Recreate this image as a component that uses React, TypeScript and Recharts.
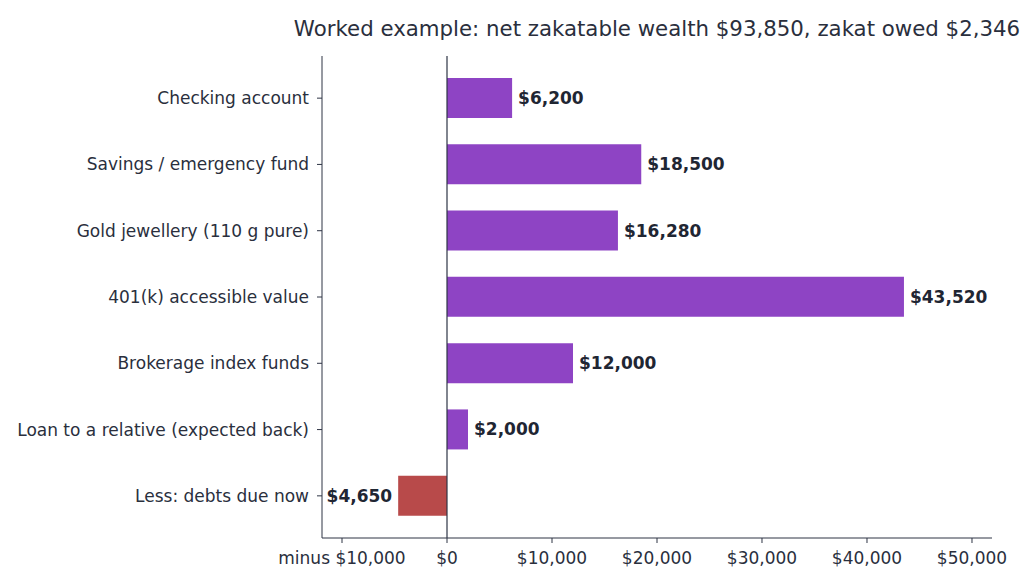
import React from "react";
import { BarChart, Bar, XAxis, YAxis, Cell, LabelList, ReferenceLine } from "recharts";

const categories = [
  "Checking account",
  "Savings / emergency fund",
  "Gold jewellery (110 g pure)",
  "401(k) accessible value",
  "Brokerage index funds",
  "Loan to a relative (expected back)",
  "Less: debts due now",
];
const values = [6200, 18500, 16280, 43520, 12000, 2000, -4650];
const xTicks = [-10000, 0, 10000, 20000, 30000, 40000, 50000];
const title = "Worked example: net zakatable wealth $93,850, zakat owed $2,346";

const data = categories.map((name, i) => ({ name, value: values[i] }));

const PURPLE = "#8E44C4";
const RED = "#B84A4A";
const AXIS = "#2E3445";
const TEXT = "#2A2F3D";
const FONT = "DejaVu Sans";

const fmt = (v: number) => "$" + Math.abs(v).toLocaleString("en-US");
const tickFmt = (v: number) => (v < 0 ? "minus " + fmt(v) : fmt(v));

const ValueLabel = (props: any) => {
  const { x, y, width, height, value } = props;
  const neg = value < 0;
  const left = Math.min(x, x + width);
  const right = Math.max(x, x + width);
  return (
    <text
      x={neg ? left - 6 : right + 6}
      y={y + height / 2}
      textAnchor={neg ? "end" : "start"}
      dominantBaseline="central"
      fontFamily={FONT}
      fontSize={17}
      fontWeight="bold"
      fill="#1F2633"
    >
      {fmt(value)}
    </text>
  );
};

export default function App() {
  return (
    <div style={{ position: "absolute", left: 0, top: 0, background: "#fff" }}>
      <div style={{ position: "relative", width: 1024, height: 588 }}>
        <div
          style={{
            position: "absolute",
            top: 17,
            left: 322,
            width: 670,
            textAlign: "center",
            fontFamily: FONT,
            fontSize: 21.3,
            lineHeight: "24px",
            color: TEXT,
            whiteSpace: "nowrap",
            display: "flex",
            justifyContent: "center",
          }}
        >
          {title}
        </div>
        <BarChart
          width={1024}
          height={588}
          data={data}
          layout="vertical"
          margin={{ top: 56, right: 32, bottom: 0, left: 0 }}
        >
          <XAxis
            type="number"
            domain={[-11905, 51905]}
            ticks={xTicks}
            tickFormatter={tickFmt}
            allowDataOverflow
            height={50}
            stroke={AXIS}
            tick={{ fill: TEXT, fontFamily: FONT, fontSize: 17 }}
            tickSize={5}
            tickMargin={9}
          />
          <YAxis
            type="category"
            dataKey="name"
            width={322}
            stroke={AXIS}
            padding={{ top: 9, bottom: 9 }}
            tick={{ fill: TEXT, fontFamily: FONT, fontSize: 17 }}
            tickSize={5}
            tickMargin={8}
            interval={0}
          />
          <ReferenceLine x={0} stroke={AXIS} strokeWidth={1.2} />
          <Bar dataKey="value" barSize={40} isAnimationActive={false}>
            {data.map((d, i) => (
              <Cell key={i} fill={d.value < 0 ? RED : PURPLE} />
            ))}
            <LabelList dataKey="value" content={<ValueLabel />} />
          </Bar>
        </BarChart>
      </div>
    </div>
  );
}
